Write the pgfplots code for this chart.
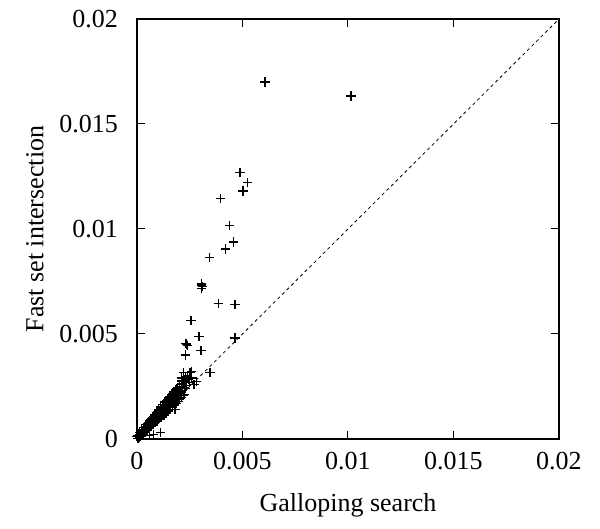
\documentclass[border=0pt]{standalone}
\usepackage{fontspec}
\setmainfont{Liberation Serif}
\usepackage{pgfplots}
\pgfplotsset{compat=1.18}
\usetikzlibrary{calc}

\begin{document}
\begin{tikzpicture}[font=\fontsize{13}{15}\selectfont]
\begin{axis}[
    scale only axis,
    width=211pt,
    height=210pt,
    xmin=0, xmax=0.02,
    ymin=0, ymax=0.02,
    xtick={0,0.005,0.01,0.015,0.02},
    ytick={0,0.005,0.01,0.015,0.02},
    xticklabels={0,0.005,0.01,0.015,0.02},
    yticklabels={0,0.005,0.01,0.015,0.02},
    scaled ticks=false,
    tick align=inside,
    major tick length=4pt,
    tick style={black, line width=0.5pt},
    axis line style={line width=0.6pt},
    xticklabel style={yshift=-3pt},
    yticklabel style={xshift=-6pt},
    xlabel={Galloping search},
    ylabel={Fast set intersection},
    every axis x label/.style={at={(axis description cs:0.5,-0.157)}, anchor=center},
    every axis y label/.style={at={(axis description cs:-0.242,0.5)}, rotate=90, anchor=center},
    clip=false,
]
% y = x reference
\addplot[black, line width=0.4pt, dash pattern=on 1.6pt off 1.6pt] coordinates {(0,0) (0.02,0.02)};

\addplot[only marks, mark=+, mark size=2.3pt, mark options={line width=0.6pt}, black] coordinates {
    % dense band near the diagonal
    (0.0000,0.0001) (0.0001,0.00022) (0.0002,0.00035) (0.0003,0.00046) (0.0004,0.00058)
    (0.0005,0.00071) (0.0006,0.00082) (0.0007,0.00095) (0.0008,0.00106) (0.0009,0.00118)
    (0.0010,0.00131) (0.0011,0.00142) (0.0012,0.00155) (0.0013,0.00166) (0.0014,0.00178)
    (0.0015,0.00191) (0.0016,0.00203) (0.0017,0.00214) (0.0018,0.00226) (0.0019,0.00238)
    (0.0020,0.00251) (0.0021,0.00262) (0.0022,0.00275) (0.0023,0.0029)
    (0.00005,0.00004) (0.00015,0.00016) (0.00025,0.00027) (0.00035,0.00038) (0.00045,0.00049)
    (0.00055,0.0006) (0.00065,0.00071) (0.00075,0.00081) (0.00085,0.00092) (0.00095,0.00103)
    (0.00105,0.00113) (0.00115,0.00124) (0.00125,0.00135) (0.00135,0.00146) (0.00145,0.00157)
    (0.00155,0.00167) (0.00165,0.00178) (0.00175,0.00189) (0.00185,0.002) (0.00195,0.0021)
    (0.00205,0.00221) (0.00215,0.00232) (0.00225,0.00243) (0.00235,0.00254)
    (0.0001,0.00009) (0.0002,0.00019) (0.0003,0.00028) (0.0004,0.00038) (0.0005,0.00047)
    (0.0006,0.00057) (0.0007,0.00066) (0.0008,0.00076) (0.0009,0.00085) (0.0010,0.00095)
    (0.0011,0.00104) (0.0012,0.00114) (0.0013,0.00123) (0.0014,0.00133) (0.0015,0.00142)
    (0.0016,0.00152) (0.0017,0.00161) (0.0018,0.00171) (0.0019,0.0018) (0.0020,0.0019)
    (0.0021,0.00199) (0.0022,0.00209)
    (0.00012,0.00019) (0.00032,0.0004) (0.00052,0.00065) (0.00072,0.00087) (0.00092,0.0011)
    (0.00112,0.00133) (0.00132,0.00156) (0.00152,0.00178) (0.00172,0.002) (0.00192,0.00225)
    (0.00212,0.00247) (0.00232,0.0027) (0.00245,0.00285)
    (0.00003,0.00018) (0.00013,0.0003) (0.00023,0.00043) (0.00033,0.00055) (0.00043,0.00068)
    (0.00053,0.0008) (0.00063,0.00092) (0.00073,0.00104) (0.00083,0.00116) (0.00093,0.00128)
    (0.00103,0.0014) (0.00113,0.00152) (0.00123,0.00164) (0.00133,0.00176) (0.00143,0.00188)
    (0.00153,0.002) (0.00163,0.00212) (0.00173,0.00224) (0.00183,0.00236)
    (0.00008,0.00002) (0.00018,0.00012) (0.00028,0.00021) (0.00038,0.0003) (0.00048,0.0004)
    (0.00058,0.00049) (0.00068,0.00058) (0.00078,0.00068) (0.00088,0.00077) (0.00098,0.00086)
    (0.00108,0.00096) (0.00118,0.00105) (0.00128,0.00114) (0.00138,0.00124) (0.00148,0.00133)
    (0.00158,0.00142) (0.00168,0.00152) (0.00178,0.00161) (0.00188,0.0017) (0.00198,0.0018)
    (0.00007,0.00012) (0.00017,0.00024) (0.00027,0.00036) (0.00037,0.00047) (0.00047,0.00059)
    (0.00057,0.00069) (0.00067,0.0008) (0.00077,0.00092) (0.00087,0.00102) (0.00097,0.00114)
    (0.00107,0.00125) (0.00117,0.00136) (0.00127,0.00148) (0.00137,0.00159) (0.00147,0.0017)
    (0.00157,0.00182) (0.00167,0.00193) (0.00177,0.00205) (0.00187,0.00216) (0.00197,0.00227)
    % stragglers round the band
    (0.0022,0.00316) (0.00251,0.00316) (0.00346,0.00316) (0.00283,0.00273) (0.00213,0.00276)
    (0.0026,0.0029) (0.0024,0.0030) (0.0027,0.0026) (0.0025,0.0027) (0.00227,0.0021)
    (0.0019,0.00178) (0.0008,0.0002) (0.0011,0.0003) (0.0006,0.00015) (0.0018,0.0014)
    (0.0016,0.0016) (0.0020,0.0022) (0.0023,0.0024) (0.0021,0.0029) (0.0026,0.0032)
    % sparse upper points
    (0.00607,0.0170) (0.01014,0.01633) (0.00488,0.0127) (0.00525,0.01222) (0.00502,0.01181)
    (0.00397,0.01146) (0.00439,0.01018) (0.00458,0.00938) (0.00419,0.00905) (0.00344,0.00865)
    (0.00305,0.00740) (0.00307,0.00733) (0.00309,0.00725) (0.00306,0.00718) (0.00385,0.00644)
    (0.00464,0.00640) (0.00256,0.00563) (0.00294,0.00489) (0.00464,0.00481) (0.00303,0.00422)
    (0.00229,0.0040) (0.00228,0.00455) (0.00236,0.00452) (0.00241,0.00447)
};
\end{axis}
\pgfresetboundingbox
\path ($(current axis.south west)+(-68.5pt,-45pt)$) rectangle ($(current axis.north east)+(20.5pt,9.5pt)$);
\end{tikzpicture}
\end{document}
